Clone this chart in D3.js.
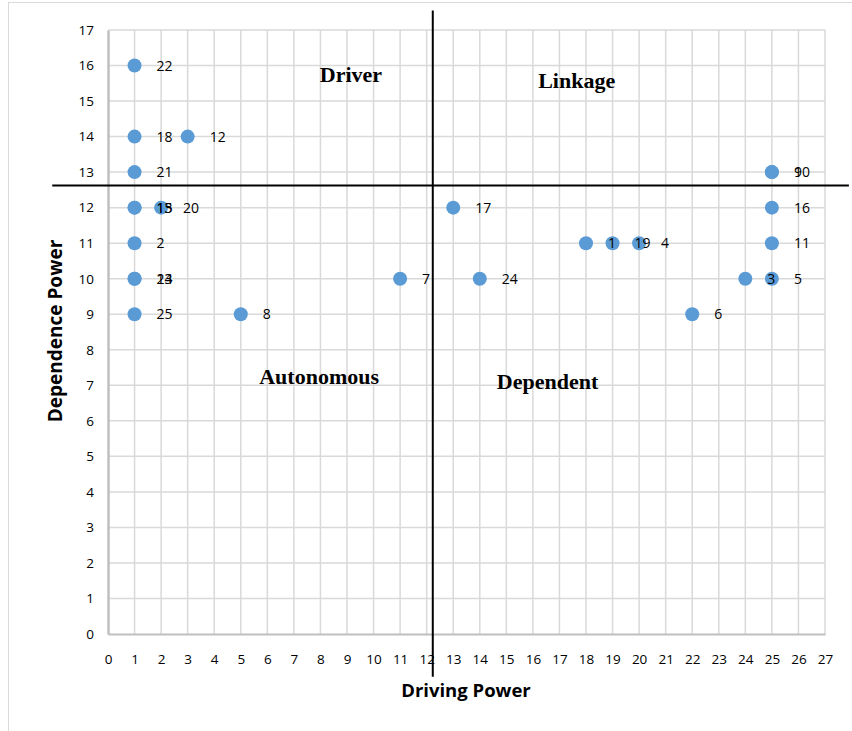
<!DOCTYPE html>
<html>
<head>
<meta charset="utf-8">
<script src="https://cdn.jsdelivr.net/npm/d3@7"></script>
<style>
  html, body { margin: 0; padding: 0; background: #fff; }
  svg { display: block; }
</style>
</head>
<body>
<svg id="chart" width="852" height="731"></svg>
<script>
// ---- data ----
const labels  = [1, 2, 3, 4, 5, 6, 7, 8, 9, 10, 11, 12, 13, 14, 15, 16, 17, 18, 19, 20, 21, 22, 23, 24, 25];
const driving = [18, 1, 24, 20, 25, 22, 11, 5, 25, 25, 25, 3, 1, 1, 1, 25, 13, 1, 19, 2, 1, 1, 1, 14, 1];
const dependence = [11, 11, 10, 11, 10, 9, 10, 9, 13, 13, 11, 14, 12, 10, 12, 12, 12, 14, 11, 12, 13, 16, 10, 10, 9];
const xTicks = d3.range(0, 28);
const yTicks = d3.range(0, 18);
const quadrantNames = ["Driver", "Linkage", "Autonomous", "Dependent"];
const quadrantX = [9.15, 17.65, 7.95, 16.55];
const quadrantY = [15.55, 15.38, 7.05, 6.9];
const splitX = 12.23;
const splitY = 12.62;

// ---- layout ----
const svg = d3.select("#chart");
const W = 852, H = 731;
const plot = { left: 108, right: 825, top: 30, bottom: 634 };

const x = d3.scaleLinear().domain([0, 27]).range([plot.left, plot.right]);
const y = d3.scaleLinear().domain([0, 17]).range([plot.bottom, plot.top]);

// outer chart border
svg.append("rect")
  .attr("x", 8.5).attr("y", 2.5).attr("width", W + 10).attr("height", H + 10)
  .attr("fill", "none").attr("stroke", "#d9d9d9").attr("stroke-width", 1);

// gridlines
const grid = svg.append("g");
grid.selectAll("line.v").data(xTicks.slice(1)).join("line")
  .attr("x1", d => x(d)).attr("x2", d => x(d))
  .attr("y1", plot.top).attr("y2", plot.bottom)
  .attr("stroke", "#d9d9d9").attr("stroke-width", 1.5);
grid.selectAll("line.h").data(yTicks.slice(1)).join("line")
  .attr("y1", d => y(d)).attr("y2", d => y(d))
  .attr("x1", plot.left).attr("x2", plot.right)
  .attr("stroke", "#d9d9d9").attr("stroke-width", 1.5);

// axes
const xAxis = svg.append("g")
  .attr("transform", `translate(0,${plot.bottom})`)
  .call(d3.axisBottom(x).tickValues(xTicks).tickSize(0).tickPadding(20).tickFormat(d3.format("d")));
xAxis.select(".domain").attr("stroke", "#bfbfbf").attr("stroke-width", 2);
xAxis.selectAll("text").attr("font-family", "Open Sans, sans-serif").attr("font-size", 13.5).attr("fill", "#000");

const yAxis = svg.append("g")
  .attr("transform", `translate(${plot.left},0)`)
  .call(d3.axisLeft(y).tickValues(yTicks).tickSize(0).tickPadding(14).tickFormat(d3.format("d")));
yAxis.select(".domain").attr("stroke", "#bfbfbf").attr("stroke-width", 2.5);
yAxis.selectAll("text").attr("font-family", "Open Sans, sans-serif").attr("font-size", 13.5).attr("fill", "#000");

// axis titles
svg.append("text")
  .attr("x", 466).attr("y", 697)
  .attr("text-anchor", "middle")
  .attr("font-family", "Open Sans, sans-serif").attr("font-weight", "bold").attr("font-size", 18.5)
  .text("Driving Power");
svg.append("text")
  .attr("transform", `translate(62,${331}) rotate(-90)`)
  .attr("text-anchor", "middle")
  .attr("font-family", "Open Sans, sans-serif").attr("font-weight", "bold").attr("font-size", 19)
  .text("Dependence Power");

// quadrant divider lines
svg.append("line")
  .attr("x1", x(-2.1)).attr("x2", x(27.9))
  .attr("y1", y(splitY)).attr("y2", y(splitY))
  .attr("stroke", "#000").attr("stroke-width", 2);
svg.append("line")
  .attr("x1", x(splitX)).attr("x2", x(splitX))
  .attr("y1", y(17.55)).attr("y2", y(-1.2))
  .attr("stroke", "#000").attr("stroke-width", 2);

// quadrant names
svg.append("g").selectAll("text").data(quadrantNames).join("text")
  .attr("x", (d, i) => x(quadrantX[i]))
  .attr("y", (d, i) => y(quadrantY[i]))
  .attr("text-anchor", "middle")
  .attr("font-family", "Liberation Serif, Times New Roman, serif")
  .attr("font-weight", "bold").attr("font-size", 22)
  .text(d => d);

// points
const pts = labels.map((l, i) => ({ label: l, x: driving[i], y: dependence[i] }));
svg.append("g").selectAll("circle").data(pts).join("circle")
  .attr("cx", d => x(d.x)).attr("cy", d => y(d.y)).attr("r", 7)
  .attr("fill", "#5b9bd5");

// point labels
svg.append("g").selectAll("text").data(pts).join("text")
  .attr("x", d => x(d.x) + 22).attr("y", d => y(d.y) + 5)
  .attr("font-family", "Open Sans, sans-serif").attr("font-size", 14).attr("fill", "#000")
  .text(d => d.label);
</script>
</body>
</html>
